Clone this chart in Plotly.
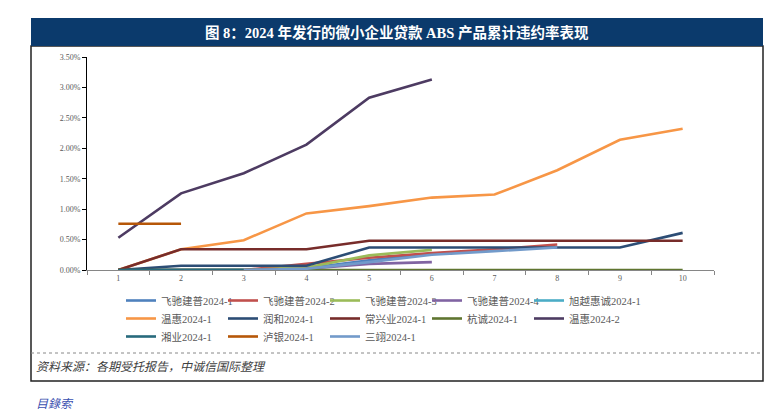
import plotly.graph_objects as go

# ---- data (cumulative default rate, %) ----
periods = [1, 2, 3, 4, 5, 6, 7, 8, 9, 10]
series_names = [
    "飞驰建普2024-1", "飞驰建普2024-2", "飞驰建普2024-3", "飞驰建普2024-4", "旭越惠诚2024-1",
    "温惠2024-1", "润和2024-1", "常兴业2024-1", "杭诚2024-1", "温惠2024-2",
    "湘业2024-1", "泸银2024-1", "三翊2024-1",
]
feichi_1 = [0, 0, 0, 0.03, 0.16, 0.27]
feichi_2 = [0, 0, 0, 0.10, 0.20, 0.28, 0.34, 0.42]
feichi_3 = [0, 0, 0, 0.04, 0.24, 0.33]
feichi_4 = [0, 0, 0, 0.02, 0.10, 0.13]
xuyue_1 = [0, 0, 0]
wenhui_1 = [0, 0.34, 0.49, 0.93, 1.05, 1.19, 1.24, 1.64, 2.14, 2.32]
runhe_1 = [0, 0.07, 0.07, 0.07, 0.37, 0.37, 0.37, 0.37, 0.37, 0.61]
changxing_1 = [0, 0.34, 0.34, 0.34, 0.48, 0.48, 0.48, 0.48, 0.48, 0.48]
hangcheng_1 = [0, 0, 0, 0, 0, 0, 0, 0, 0, 0]
wenhui_2 = [0.53, 1.26, 1.59, 2.06, 2.83, 3.13]
xiangye_1 = [0, 0, 0]
luyin_1 = [0.76, 0.76]
sanyi_1 = [None, None, 0, 0.02, 0.13, 0.25, 0.31, 0.37]
y_ticks = [0, 0.5, 1.0, 1.5, 2.0, 2.5, 3.0, 3.5]

series_values = [feichi_1, feichi_2, feichi_3, feichi_4, xuyue_1, wenhui_1, runhe_1,
                 changxing_1, hangcheng_1, wenhui_2, xiangye_1, luyin_1, sanyi_1]
colors = ["#4F81BD", "#C0504D", "#9BBB59", "#8064A2", "#4BACC6", "#F79646", "#2C4D75",
          "#772C2A", "#5F7530", "#4D3B62", "#276A7C", "#B65708", "#729ACA"]

W, H = 767, 410
L, R, T, B = 87, 714, 57, 270  # plot area in pixels
COL0, COLW = 121, 102           # legend column origin / pitch
ROW0, ROWH = 286, 18            # legend first row top / row pitch
NCOL = 5


def cx(xp):
    return xp / W


def cy(yp):
    return 1 - yp / H


def px(xp):
    return (xp - L) / (R - L)


def py(yp):
    return (B - yp) / (B - T)


legend_font = dict(family="Liberation Serif, Noto Sans CJK SC", size=10.5, color="#595959")
tick_font = dict(family="Liberation Serif, Noto Sans CJK SC", size=8, color="#595959")

fig = go.Figure()
legend_layouts = {}
for i, (name, vals, col) in enumerate(zip(series_names, series_values, colors)):
    lid = "legend" if i == 0 else f"legend{i + 1}"
    r, c = divmod(i, NCOL)
    legend_layouts[lid] = dict(
        orientation="h", xref="container", yref="container",
        x=cx(COL0 + c * COLW), y=cy(ROW0 + r * ROWH), xanchor="left", yanchor="top",
        font=legend_font, itemwidth=30, bgcolor="rgba(0,0,0,0)",
    )
    fig.add_trace(go.Scatter(
        x=periods[:len(vals)], y=vals, name=name, mode="lines",
        line=dict(color=col, width=2.6), connectgaps=False, legend=lid,
    ))

fig.update_layout(
    width=W, height=H,
    margin=dict(l=L, r=W - R, t=T, b=H - B, autoexpand=False),
    paper_bgcolor="white", plot_bgcolor="white",
    showlegend=True,
    xaxis=dict(
        range=[0.5, 10.5], tickmode="array", tickvals=periods,
        ticktext=[str(p) for p in periods], ticks="", showgrid=False, zeroline=False,
        showline=True, linecolor="#868686", linewidth=1, tickfont=tick_font,
        minor=dict(tickmode="linear", tick0=0.5, dtick=1, ticks="outside",
                   ticklen=4, tickcolor="#868686", tickwidth=1, showgrid=False),
        fixedrange=True,
    ),
    yaxis=dict(
        range=[0, 3.5], tickmode="array", tickvals=y_ticks,
        ticktext=[f"{v:.2f}%" for v in y_ticks], ticks="outside", ticklen=4,
        tickcolor="#000000", showgrid=False, zeroline=False, showline=True,
        linecolor="#000000", linewidth=1, tickfont=tick_font, fixedrange=True,
    ),
    **legend_layouts,
)

shapes = [
    dict(type="rect", xref="paper", yref="paper", x0=px(31), x1=px(763), y0=py(46), y1=py(18),
         fillcolor="#0B3A6C", line=dict(color="#0B3A6C", width=0), layer="above"),
    dict(type="rect", xref="paper", yref="paper", x0=px(31), x1=px(763), y0=py(381), y1=py(46),
         line=dict(color="#222222", width=1.5), fillcolor="rgba(0,0,0,0)", layer="below"),
    dict(type="line", xref="paper", yref="paper", x0=px(31), x1=px(763), y0=py(353), y1=py(353),
         line=dict(color="#888888", width=1, dash="dot")),
]
fig.update_layout(shapes=shapes)

fig.add_annotation(
    text="<b>图 8：2024 年发行的微小企业贷款 ABS 产品累计违约率表现</b>",
    xref="paper", yref="paper", x=px(397), y=py(32), xanchor="center", yanchor="middle",
    showarrow=False, font=dict(family="Liberation Serif, Noto Sans CJK SC", size=14.5, color="white"),
)
fig.add_annotation(
    text="<i>资料来源：各期受托报告，中诚信国际整理</i>",
    xref="paper", yref="paper", x=px(34), y=py(367), xanchor="left", yanchor="middle",
    showarrow=False, font=dict(family="Liberation Serif, Noto Sans CJK SC", size=12, color="#404040"),
)
fig.add_annotation(
    text="<i>目錄索</i>",
    xref="paper", yref="paper", x=px(34), y=py(402), xanchor="left", yanchor="middle",
    showarrow=False, font=dict(family="Noto Sans CJK SC", size=12, color="#3A4FB0"),
)

fig.write_html("out.html", config={"displayModeBar": False},
               post_script="document.body.style.margin='0px';document.body.style.overflow='hidden';")
